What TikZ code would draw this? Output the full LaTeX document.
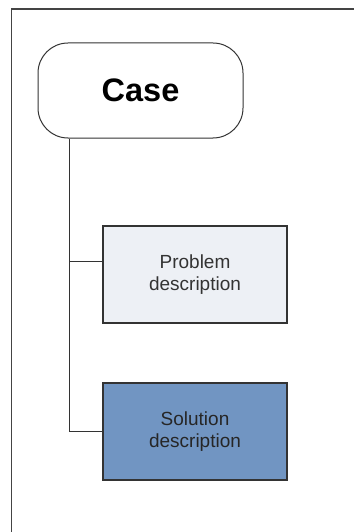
\documentclass[tikz,border=0pt]{standalone}
\usepackage{fontspec}
\setmainfont{Liberation Sans}
\definecolor{framec}{HTML}{444444}
\definecolor{linec}{HTML}{333333}
\definecolor{probfill}{HTML}{EDF0F5}
\definecolor{solfill}{HTML}{7195C2}
\definecolor{txtc}{HTML}{333333}
\begin{document}
\begin{tikzpicture}[x=1pt,y=-1pt,
  casebox/.style={draw=linec, line width=1pt, rounded corners=30pt, minimum width=205pt, minimum height=95pt, inner sep=0pt, font=\fontsize{32.5}{36}\selectfont\bfseries, fill=white},
  descbox/.style={draw=linec, line width=1.5pt, minimum width=184pt, minimum height=97pt, inner sep=0pt, align=center, font=\fontsize{19}{22.5}\selectfont, text=txtc},
  conn/.style={draw=linec, line width=1pt}]
\useasboundingbox (0,0) rectangle (354,532);
\fill[white] (0,0) rectangle (354,532);
\draw[framec, line width=1.6pt] (11.5,532) -- (11.5,9) -- (354,9);
\node[casebox] (case) at (140.5,90.5) {Case};
\node[descbox, fill=probfill] (prob) at (195,274.5) {Problem\\description};
\node[descbox, fill=solfill, text=black!85] (sol) at (195,431.5) {Solution\\description};
\coordinate (trunk) at (69,0);
\draw[conn] (case.south -| trunk) |- ([yshift=13.5pt]prob.west);
\draw[conn] (case.south -| trunk) |- (sol.west);
\end{tikzpicture}
\end{document}
